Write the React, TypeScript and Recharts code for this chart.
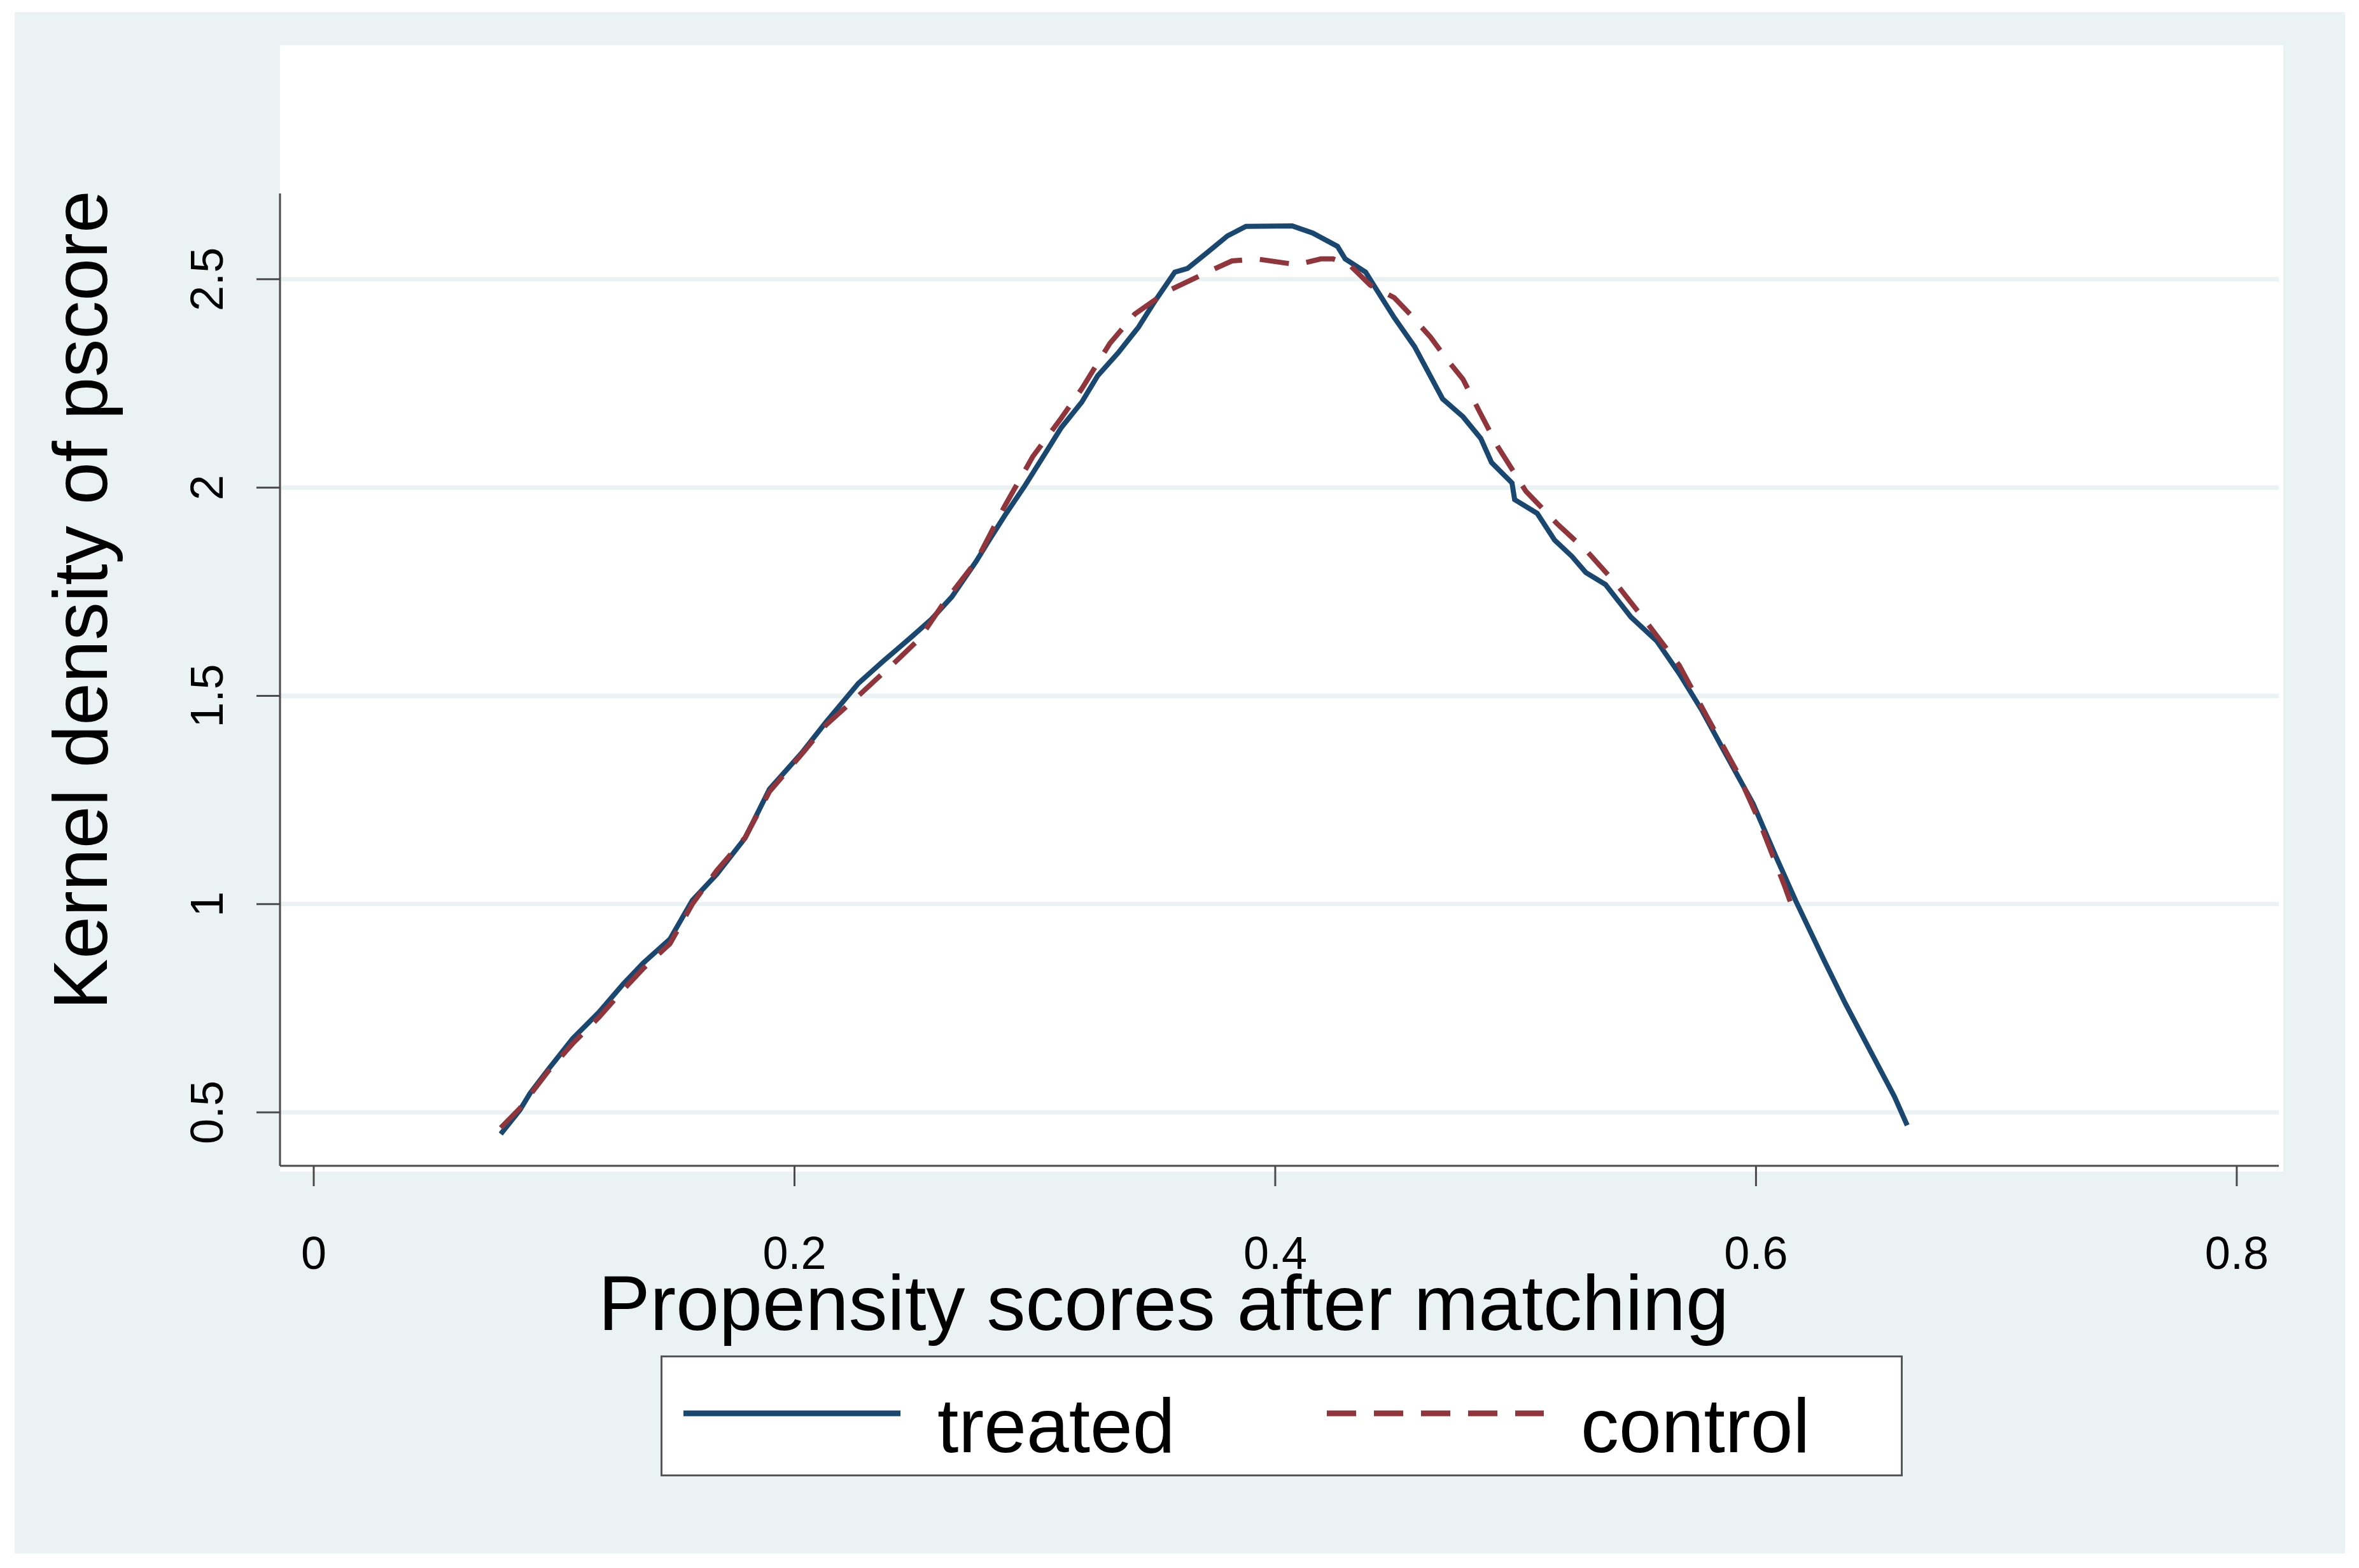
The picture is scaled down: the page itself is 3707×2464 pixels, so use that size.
import React from "react";
import { CartesianGrid, Legend, Line, LineChart, XAxis, YAxis } from "recharts";

// kernel density estimates
const treatedX = [
  0.0778, 0.0858, 0.09, 0.0977, 0.1077, 0.1186, 0.1289, 0.137, 0.1482, 0.1575,
  0.1676, 0.1795, 0.1896, 0.203, 0.2131, 0.2266, 0.2369, 0.2486, 0.257, 0.2655,
  0.2756, 0.2806, 0.2875, 0.2957, 0.3042, 0.311, 0.3195, 0.3261, 0.3346, 0.3431,
  0.35, 0.3582, 0.3635, 0.3717, 0.3801, 0.3878, 0.4071, 0.4156, 0.4259, 0.4291,
  0.4376, 0.4426, 0.4495, 0.458, 0.4696, 0.4781, 0.4855, 0.49, 0.4985, 0.4996,
  0.509, 0.5162, 0.5234, 0.5292, 0.5374, 0.548, 0.5588, 0.5681, 0.5776, 0.5858,
  0.5988, 0.6083, 0.6166, 0.6284, 0.6372, 0.6478, 0.6576, 0.6629,
];
const treatedY = [
  0.448, 0.506, 0.546, 0.604, 0.677, 0.74, 0.809, 0.858, 0.916, 1.009,
  1.071, 1.159, 1.276, 1.363, 1.437, 1.53, 1.583, 1.641, 1.684, 1.738,
  1.823, 1.87, 1.933, 2.003, 2.081, 2.144, 2.205, 2.268, 2.323, 2.385,
  2.448, 2.517, 2.526, 2.564, 2.604, 2.627, 2.628, 2.611, 2.579, 2.549,
  2.517, 2.471, 2.408, 2.338, 2.213, 2.17, 2.118, 2.06, 2.011, 1.971,
  1.938, 1.874, 1.835, 1.796, 1.767, 1.689, 1.631, 1.553, 1.464, 1.377,
  1.241, 1.114, 1.007, 0.864, 0.761, 0.645, 0.538, 0.469,
];

const controlX = [
  0.0778, 0.0858, 0.0977, 0.1077, 0.1186, 0.1289, 0.137, 0.1482, 0.1575, 0.1676,
  0.1795, 0.1896, 0.203, 0.2131, 0.2266, 0.2369, 0.2401, 0.252, 0.262, 0.2756,
  0.2875, 0.2991, 0.311, 0.3195, 0.3312, 0.3415, 0.355, 0.3717, 0.382, 0.392,
  0.409, 0.419, 0.424, 0.431, 0.4395, 0.4495, 0.4561, 0.4646, 0.4715, 0.4781,
  0.485, 0.4926, 0.5043, 0.5173, 0.53, 0.5421, 0.554, 0.5681, 0.58, 0.592,
  0.6012, 0.6118, 0.6166,
];
const controlY = [
  0.463, 0.51, 0.6, 0.665, 0.728, 0.795, 0.845, 0.905, 1.0, 1.08,
  1.16, 1.27, 1.36, 1.43, 1.5, 1.555, 1.571, 1.637, 1.722, 1.823,
  1.956, 2.074, 2.167, 2.237, 2.346, 2.416, 2.471, 2.517, 2.544, 2.549,
  2.535, 2.549, 2.549, 2.534, 2.486, 2.456, 2.416, 2.361, 2.307, 2.26,
  2.182, 2.098, 1.991, 1.913, 1.845, 1.767, 1.68, 1.573, 1.446, 1.319,
  1.201, 1.045, 0.968,
];

const xTicks = [0, 0.2, 0.4, 0.6, 0.8];
const yTicks = [0.5, 1, 1.5, 2, 2.5];
const seriesNames = ["treated", "control"];
const seriesColors = ["#1a476f", "#90353b"];
const seriesDash = [undefined, "46 28"];

const treatedData = treatedX.map((x, i) => ({ x, y: treatedY[i] }));
const controlData = controlX.map((x, i) => ({ x, y: controlY[i] }));

const BG = "#eaf2f3";
const AXIS = "#4a4a4a";

function XTick({ x, y, payload }: any) {
  return (
    <text x={x} y={y} dy="0.71em" textAnchor="middle" fontSize={72} fill="#000">
      {payload.value}
    </text>
  );
}

function YTick({ x, y, payload }: any) {
  return (
    <text x={x} y={y} transform={`rotate(-90 ${x} ${y})`} textAnchor="middle" fontSize={72} fill="#000">
      {payload.value}
    </text>
  );
}

function XTitle(props: any) {
  const vb = props.viewBox ?? { x: 440, y: 1832, width: 3141, height: 300 };
  return (
    <text x={vb.x + vb.width / 2 - 182} y={vb.y + 258} textAnchor="middle" fontSize={122} fill="#000">
      Propensity scores after matching
    </text>
  );
}

function YTitle(props: any) {
  const vb = props.viewBox ?? { x: 40, y: 304, width: 400, height: 1528 };
  const x = vb.x + 128;
  const y = vb.y + vb.height / 2 - 125;
  return (
    <text x={x} y={y} transform={`rotate(-90 ${x} ${y})`} textAnchor="middle" fontSize={120} fill="#000">
      Kernel density of pscore
    </text>
  );
}

function LegendBox({ payload }: any) {
  const entries = seriesNames.map((name, i) => {
    const found = (payload ?? []).find((p: any) => p.value === name);
    return {
      name,
      color: found?.color ?? seriesColors[i],
      dash: found?.payload?.strokeDasharray ?? seriesDash[i],
    };
  });
  return (
    <svg width={1952} height={190} style={{ display: "block" }}>
      <rect x={1.5} y={1.5} width={1949} height={187} fill="#fff" stroke="#555" strokeWidth={3} />
      {entries.map((e, i) => {
        const x0 = 36 + i * 1011;
        return (
          <g key={e.name}>
            <line x1={x0} x2={x0 + 341} y1={91} y2={91} stroke={e.color} strokeWidth={9} strokeDasharray={e.dash} />
            <text x={x0 + 399} y={152} fontSize={120} fill="#000">
              {e.name}
            </text>
          </g>
        );
      })}
    </svg>
  );
}

export default function App() {
  return (
    <div
      style={{
        position: "relative",
        width: 3707,
        height: 2464,
        background: "#fff",
        fontFamily: '"Liberation Sans", Arial, sans-serif',
        overflow: "hidden",
      }}
    >
      <style>{"body{margin:0}"}</style>
      <div style={{ position: "absolute", left: 23, top: 19, width: 3662, height: 2422, background: BG }} />
      <div style={{ position: "absolute", left: 440, top: 71, width: 3148, height: 1770, background: "#fff" }} />
      <div style={{ position: "absolute", left: 0, top: 0 }}>
        <LineChart width={3707} height={2464} margin={{ top: 304, right: 126, bottom: 332, left: 40 }}>
          <CartesianGrid vertical={false} horizontalValues={yTicks} stroke={BG} strokeWidth={7} />
          <XAxis
            dataKey="x"
            type="number"
            domain={[-0.01403, 0.8175]}
            allowDataOverflow
            ticks={xTicks}
            tick={<XTick />}
            tickSize={32}
            tickMargin={79}
            height={300}
            axisLine={{ stroke: AXIS, strokeWidth: 3 }}
            tickLine={{ stroke: AXIS, strokeWidth: 3 }}
            label={<XTitle />}
          />
          <YAxis
            type="number"
            domain={[0.3717, 2.706]}
            allowDataOverflow
            ticks={yTicks}
            tick={<YTick />}
            tickSize={37}
            tickMargin={53}
            width={400}
            axisLine={{ stroke: AXIS, strokeWidth: 3 }}
            tickLine={{ stroke: AXIS, strokeWidth: 3 }}
            label={<YTitle />}
          />
          <Line
            data={treatedData}
            dataKey="y"
            name="treated"
            type="linear"
            stroke={seriesColors[0]}
            strokeWidth={8}
            dot={false}
            activeDot={false}
            isAnimationActive={false}
          />
          <Line
            data={controlData}
            dataKey="y"
            name="control"
            type="linear"
            stroke={seriesColors[1]}
            strokeWidth={8}
            strokeDasharray={seriesDash[1]}
            dot={false}
            activeDot={false}
            isAnimationActive={false}
          />
          <Legend
            verticalAlign="middle"
            align="center"
            layout="horizontal"
            wrapperStyle={{ left: 1038, top: 2130, width: 1952, height: 190 }}
            content={<LegendBox />}
          />
        </LineChart>
      </div>
    </div>
  );
}
